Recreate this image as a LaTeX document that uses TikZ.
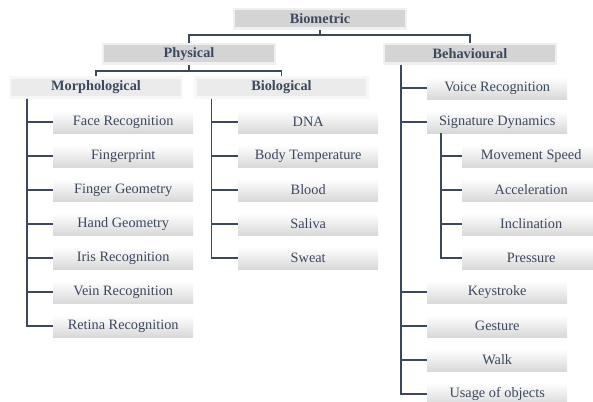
\documentclass[tikz,border=0pt]{standalone}
\usepackage{fontspec}
\setmainfont{Liberation Serif}
\definecolor{slate}{RGB}{60,72,94}
\tikzset{
  link/.style={draw=slate, line width=1.5pt},
  headbox/.style={draw=black!6, line width=2.5pt, fill=black!17,
    minimum width=172pt, minimum height=19.5pt, inner sep=0pt,
    text=slate, font=\fontsize{14.3}{16}\selectfont\bfseries},
  groupbox/.style={headbox, draw=black!3, fill=black!8},
  leaf/.style={top color=white, bottom color=black!15, anchor=west,
    minimum width=140pt, minimum height=22pt, inner sep=0pt,
    text=slate, font=\fontsize{14.3}{16}\selectfont},
}
\begin{document}
\begin{tikzpicture}[x=1pt,y=-1pt]
  \useasboundingbox (0,0) rectangle (593,401);
  % heads
  \node[headbox] (bio) at (320,19) {Biometric};
  \node[headbox] (phys) at (189,54) {Physical};
  \node[headbox] (behav) at (470,54) {Behavioural};
  \node[groupbox] (morph) at (96,87.5) {Morphological};
  \node[groupbox] (biol) at (281.5,87.5) {Biological};
  % leaves
  \foreach \name/\txt [count=\i] in {face/Face Recognition, finger/Fingerprint,
      fgeo/Finger Geometry, hand/Hand Geometry, iris/Iris Recognition,
      vein/Vein Recognition, retina/Retina Recognition}
    \node[leaf] (\name) at (53,88+34*\i) {\txt};
  \foreach \name/\txt [count=\i] in {dna/DNA, temp/Body Temperature,
      blood/Blood, saliva/Saliva, sweat/Sweat}
    \node[leaf] (\name) at (238,88+34*\i) {\txt};
  \foreach \name/\txt [count=\i from 0] in {voice/Voice Recognition,
      sig/Signature Dynamics}
    \node[leaf] (\name) at (427,88+34*\i) {\txt};
  \foreach \name/\txt [count=\i from 2] in {speed/Movement Speed,
      accel/Acceleration, incl/Inclination, press/Pressure}
    \node[leaf, minimum width=138pt] (\name) at (462,88+34*\i) {\txt};
  \foreach \name/\txt [count=\i from 6] in {key/Keystroke, gest/Gesture,
      walk/Walk, usage/Usage of objects}
    \node[leaf] (\name) at (427,88+34*\i) {\txt};
  % connectors
  \begin{scope}[link]
    \draw (bio.south) -- ++(0,5) -| (phys.north);
    \draw (bio.south) -- ++(0,5) -| (behav.north);
    \draw (phys.south) -- ++(0,6) -| (morph.north);
    \draw (phys.south) -- ++(0,6) -| (biol.north);
    \foreach \name in {face,finger,fgeo,hand,iris,vein,retina}
      \draw ([xshift=18pt]morph.south west) |- (\name.west);
    \foreach \name in {dna,temp,blood,saliva,sweat}
      \draw ([xshift=17pt]biol.south west) |- (\name.west);
    \foreach \name in {voice,sig,key,gest,walk,usage}
      \draw ([xshift=18pt]behav.south west) |- (\name.west);
    \foreach \name in {speed,accel,incl,press}
      \draw ([xshift=14pt]sig.south west) |- (\name.west);
  \end{scope}
\end{tikzpicture}
\end{document}
